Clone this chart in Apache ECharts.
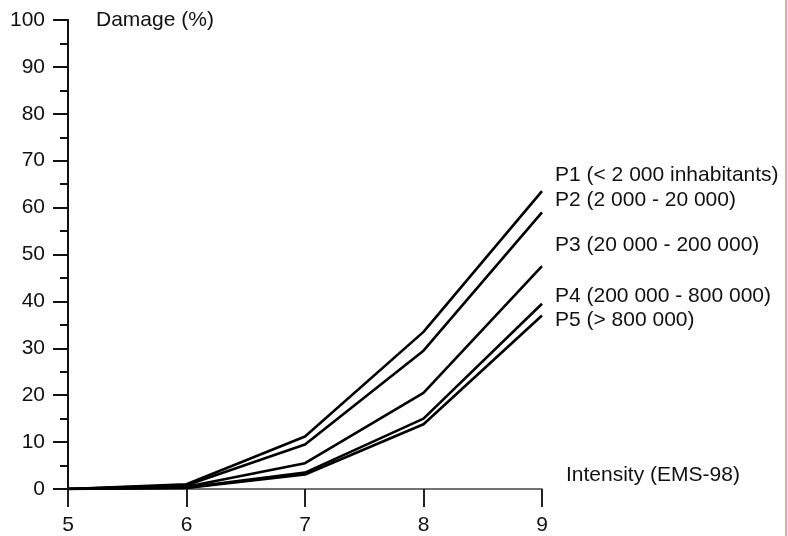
<!DOCTYPE html>
<html>
<head>
<meta charset="utf-8">
<script src="https://cdn.jsdelivr.net/npm/echarts@6/dist/echarts.min.js"></script>
<style>
  html, body { margin: 0; padding: 0; background: #fff; }
  #main { width: 788px; height: 536px; }
</style>
</head>
<body>
<div id="main"></div>
<script>
// intensity (EMS-98) vs damage (%) by population class
var intensity = [5, 6, 7, 8, 9];
var seriesNames = [
  'P1 (< 2 000 inhabitants)',
  'P2 (2 000 - 20 000)',
  'P3 (20 000 - 200 000)',
  'P4 (200 000 - 800 000)',
  'P5 (> 800 000)'
];
var p1 = [0, 1.0, 11.2, 33.5, 63.5];
var p2 = [0, 0.8, 9.5, 29.5, 59.0];
var p3 = [0, 0.5, 5.5, 20.5, 47.5];
var p4 = [0, 0.3, 3.5, 15.0, 39.5];
var p5 = [0, 0.2, 3.1, 13.8, 37.0];
var allValues = [p1, p2, p3, p4, p5];
// vertical nudge of each end label so they don't collide
var labelShift = [-16, -12, -21, -8, 5];

var chart = echarts.init(document.getElementById('main'));
var font = 'Liberation Sans, Arial, sans-serif';

var series = allValues.map(function (vals, i) {
  return {
    name: seriesNames[i],
    type: 'line',
    data: intensity.map(function (x, j) { return [x, vals[j]]; }),
    symbol: 'none',
    lineStyle: { color: '#000', width: 2.6 },
    endLabel: {
      show: true,
      formatter: '{a}',
      distance: 0,
      offset: [13, labelShift[i]],
      color: '#111',
      fontFamily: font,
      fontSize: 21
    }
  };
});

var option = {
  animation: false,
  backgroundColor: '#fff',
  grid: { left: 68, right: 246, top: 20, bottom: 47, containLabel: false },
  xAxis: {
    type: 'value',
    min: 5,
    max: 9,
    interval: 1,
    name: 'Intensity (EMS-98)',
    nameLocation: 'end',
    nameGap: 24,
    nameTextStyle: {
      color: '#111', fontFamily: font, fontSize: 21,
      verticalAlign: 'bottom', padding: [0, 0, 3, 0]
    },
    splitLine: { show: false },
    axisLine: { onZero: false, lineStyle: { color: '#444', width: 1.5 } },
    axisTick: { length: 18, lineStyle: { color: '#222', width: 2 } },
    axisLabel: { margin: 26, color: '#111', fontFamily: font, fontSize: 21 }
  },
  yAxis: {
    type: 'value',
    min: 0,
    max: 100,
    interval: 10,
    name: 'Damage (%)',
    nameLocation: 'end',
    nameGap: 0,
    nameTextStyle: {
      color: '#111', fontFamily: font, fontSize: 21,
      align: 'left', verticalAlign: 'middle', padding: [0, 0, 0, 28]
    },
    splitLine: { show: false },
    axisLine: { show: true, lineStyle: { color: '#111', width: 2 } },
    axisTick: { show: true, length: 15, lineStyle: { color: '#111', width: 2 } },
    minorTick: { show: true, splitNumber: 2, length: 8, lineStyle: { color: '#111', width: 2 } },
    axisLabel: { margin: 23, color: '#111', fontFamily: font, fontSize: 21 }
  },
  graphic: [{
    type: 'line',
    shape: { x1: 786, y1: 0, x2: 786, y2: 536 },
    style: { stroke: '#e88080', lineWidth: 1.5 }
  }],
  series: series
};

chart.setOption(option);
</script>
</body>
</html>
